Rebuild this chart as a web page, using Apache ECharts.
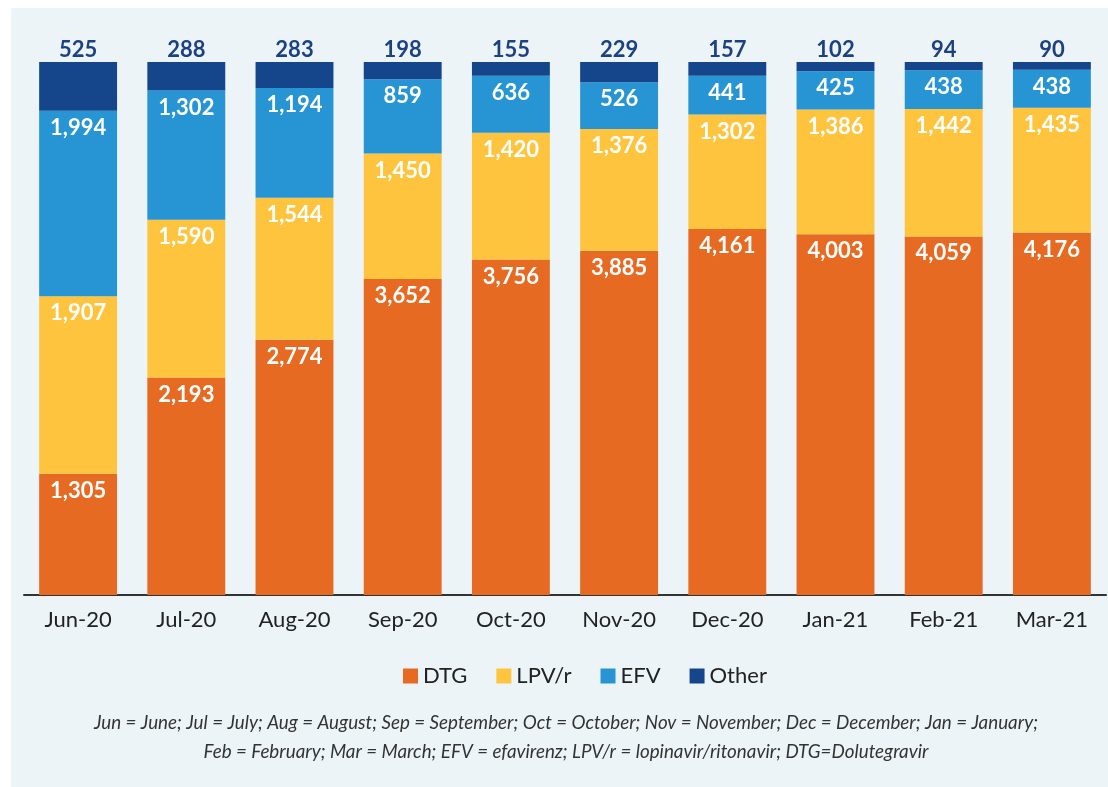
<!DOCTYPE html>
<html>
<head>
<meta charset="utf-8">
<script src="https://cdn.jsdelivr.net/npm/echarts@6/dist/echarts.min.js"></script>
<style>html,body{margin:0;padding:0;background:#fff;}#c{width:1108px;height:787px;}</style>
</head>
<body>
<div id="c"></div>
<script>
const categories = ['Jun-20','Jul-20','Aug-20','Sep-20','Oct-20','Nov-20','Dec-20','Jan-21','Feb-21','Mar-21'];
const dtg   = [1305, 2193, 2774, 3652, 3756, 3885, 4161, 4003, 4059, 4176];
const lpvr  = [1907, 1590, 1544, 1450, 1420, 1376, 1302, 1386, 1442, 1435];
const efv   = [1994, 1302, 1194,  859,  636,  526,  441,  425,  438,  438];
const other = [ 525,  288,  283,  198,  155,  229,  157,  102,   94,   90];
const seriesNames = ['DTG','LPV/r','EFV','Other'];
const colors = ['#E66A22','#FEC43E','#2795D3','#15458A'];
const footnoteLines = [
  'Jun = June; Jul = July; Aug = August; Sep = September; Oct = October; Nov = November; Dec = December; Jan = January;',
  'Feb = February; Mar = March; EFV = efavirenz; LPV/r = lopinavir/ritonavir; DTG=Dolutegravir'
];

const raw = [dtg, lpvr, efv, other];
const totals = categories.map((_, i) => raw.reduce((s, a) => s + a[i], 0));
const fmt = v => v.toLocaleString('en-US');

const FONT = 'Lato';
const series = raw.map((arr, k) => ({
  name: seriesNames[k],
  type: 'bar',
  stack: 'total',
  barCategoryGap: '28%',
  itemStyle: { color: colors[k] },
  data: arr.map((v, i) => ({ value: v / totals[i] * 100, raw: v })),
  label: k < 3 ? {
    show: true, position: 'insideTop', distance: 6,
    color: '#fff', fontFamily: FONT, fontWeight: 'bold', fontSize: 22,
    formatter: p => fmt(p.data.raw)
  } : {
    show: true, position: 'top', distance: 1,
    color: '#1B4183', fontFamily: FONT, fontWeight: 'bold', fontSize: 22,
    formatter: p => fmt(p.data.raw)
  }
}));

const chart = echarts.init(document.getElementById('c'), null, { renderer: 'canvas' });
chart.setOption({
  animation: false,
  graphic: [{
    type: 'rect', z: -10, silent: true,
    shape: { x: 11, y: 8, width: 1097, height: 779 },
    style: { fill: '#ECF4F7' }
  }].concat(footnoteLines.map((t, i) => ({
    type: 'text', silent: true,
    x: 566, y: 723 + i * 29,
    style: {
      text: t, align: 'center', verticalAlign: 'middle',
      font: 'italic 18.8px ' + FONT, fill: '#333'
    }
  }))),
  legend: {
    data: seriesNames, top: 660, left: 398,
    itemWidth: 15, itemHeight: 15, itemGap: 29, icon: 'rect',
    textStyle: { fontFamily: FONT, fontSize: 22, color: '#222' }
  },
  grid: { left: 24, right: 2, top: 62, bottom: 192, containLabel: false },
  xAxis: {
    type: 'category', data: categories,
    axisLine: { lineStyle: { color: '#333', width: 2 } },
    axisTick: { show: false },
    axisLabel: { fontFamily: FONT, fontSize: 22, color: '#222', margin: 14 }
  },
  yAxis: { type: 'value', min: 0, max: 100, show: false, splitLine: { show: false } },
  series
});
</script>
</body>
</html>
